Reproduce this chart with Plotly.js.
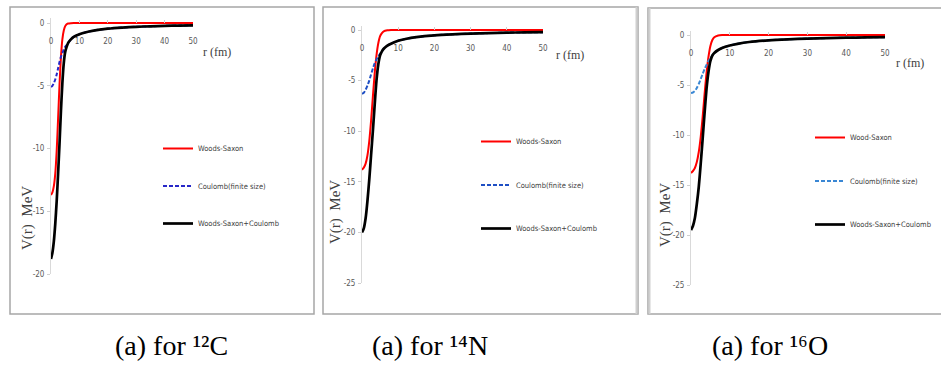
<!DOCTYPE html>
<html>
<head>
<meta charset="utf-8">
<script src="https://cdn.plot.ly/plotly-3.0.1.min.js"></script>
<style>html,body{margin:0;padding:0;background:#fff;}#chart{width:941px;height:366px;}</style>
</head>
<body>
<div id="chart"></div>
<script>
// radius values (fm)
const r = [0,0.5,1,1.5,2,2.5,3,3.5,4,4.5,5,5.5,6,7,8,10,12,15,20,25,30,35,40,45,50];

// 12C
const wsC   = [-13.7,-13.5,-13.0,-12.0,-10.2,-7.6,-4.9,-2.7,-1.3,-0.6,-0.25,-0.1,-0.04,-0.01,0,0,0,0,0,0,0,0,0,0,0];
const coulC = [-5.1,-5.0,-4.8,-4.5,-4.1,-3.6,-3.1,-2.7,-2.4,-2.1,-1.9,-1.75,-1.6,-1.3,-1.1,-0.9,-0.75,-0.6,-0.45,-0.36,-0.3,-0.26,-0.23,-0.2,-0.18];
const totC  = [-18.8,-18.3,-17.4,-16.0,-14.2,-12.0,-9.6,-7.0,-4.8,-3.2,-2.3,-1.9,-1.6,-1.3,-1.1,-0.9,-0.75,-0.6,-0.45,-0.36,-0.3,-0.26,-0.23,-0.2,-0.18];

// 14N
const wsN   = [-13.8,-13.6,-13.2,-12.4,-11.0,-9.0,-6.6,-4.3,-2.5,-1.3,-0.6,-0.3,-0.12,-0.03,0,0,0,0,0,0,0,0,0,0,0];
const coulN = [-6.3,-6.2,-5.9,-5.5,-5.0,-4.4,-3.8,-3.3,-2.9,-2.6,-2.35,-2.1,-1.85,-1.55,-1.35,-1.05,-0.88,-0.7,-0.52,-0.42,-0.35,-0.3,-0.26,-0.23,-0.21];
const totN  = [-20.0,-19.6,-18.6,-16.9,-14.8,-12.4,-10.0,-7.4,-5.0,-3.4,-2.5,-2.1,-1.85,-1.55,-1.35,-1.05,-0.88,-0.7,-0.52,-0.42,-0.35,-0.3,-0.26,-0.23,-0.21];

// 16O
const wsO   = [-13.8,-13.6,-13.3,-12.7,-11.7,-10.2,-8.2,-5.9,-3.8,-2.2,-1.1,-0.5,-0.22,-0.05,0,0,0,0,0,0,0,0,0,0,0];
const coulO = [-5.8,-5.75,-5.6,-5.3,-4.9,-4.4,-3.9,-3.4,-3.0,-2.6,-2.3,-2.05,-1.8,-1.5,-1.3,-1.05,-0.88,-0.7,-0.53,-0.43,-0.36,-0.31,-0.27,-0.24,-0.22];
const totO  = [-19.5,-19.1,-18.3,-16.9,-15.2,-12.9,-10.4,-7.8,-5.4,-3.7,-2.6,-2.05,-1.8,-1.5,-1.3,-1.05,-0.88,-0.7,-0.53,-0.43,-0.36,-0.31,-0.27,-0.24,-0.22];

const xTicks = [0,10,20,30,40,50];
const yTicksC = [0,-5,-10,-15,-20];
const yTicksNO = [0,-5,-10,-15,-20,-25];
const namesC = ['Woods-Saxon','Coulomb(finite size)','Woods-Saxon+Coulomb'];
const namesN = ['Woods-Saxon','Coulomb(finite size)','Woods-Saxon+Coulomb'];
const namesO = ['Wood-Saxon','Coulomb(finite size)','Woods-Saxon+Coulomb'];
const captions = ['(a) for \u00B9\u00B2C','(a) for \u00B9\u2074N','(a) for \u00B9\u2076O'];
const xTitle = 'r (fm)';
const yTitle = 'V(r)  MeV';

const W = 941, H = 366;
const px = v => v / W;
const py = v => 1 - v / H;

const panels = [
  {ws: wsC, co: coulC, tot: totC, names: namesC, blue: '#2828c8', xa: 'x',  ya: 'y',  lg: 'legend'},
  {ws: wsN, co: coulN, tot: totN, names: namesN, blue: '#1f4fc4', xa: 'x2', ya: 'y2', lg: 'legend2'},
  {ws: wsO, co: coulO, tot: totO, names: namesO, blue: '#3a87d4', xa: 'x3', ya: 'y3', lg: 'legend3'}
];

const traces = [];
panels.forEach((p, i) => {
  traces.push({x: r, y: p.ws, name: p.names[0], mode: 'lines', line: {color: '#ff0000', width: 2, shape: 'spline', smoothing: 0.6},
               xaxis: p.xa, yaxis: p.ya, legend: p.lg, legendgroup: 'a' + i});
  traces.push({x: r, y: p.co, name: p.names[1], mode: 'lines', line: {color: p.blue, width: 2, dash: '4px,2px', shape: 'spline', smoothing: 0.6},
               xaxis: p.xa, yaxis: p.ya, legend: p.lg, legendgroup: 'b' + i});
  traces.push({x: r, y: p.tot, name: p.names[2], mode: 'lines', line: {color: '#000000', width: 2.7, shape: 'spline', smoothing: 0.6},
               xaxis: p.xa, yaxis: p.ya, legend: p.lg, legendgroup: 'c' + i});
});

const narrow = 'Liberation Sans Narrow, Arial Narrow, DejaVu Sans Condensed, sans-serif';
const tickFont = {family: narrow, size: 8, color: '#595959'};
const serif = 'Liberation Serif, Times New Roman, serif';

// zeroPx: pixel row of V=0, where the r axis sits
function xAxis(x0, x1, zeroPx) {
  return {domain: [px(x0), px(x1)], anchor: 'free', position: py(zeroPx), side: 'bottom',
          range: [0, 50], ticklabelstandoff: 12,
          tickvals: xTicks, ticktext: xTicks.map(String), tickfont: tickFont,
          ticks: 'inside', ticklen: 3, tickcolor: '#d0d0d0',
          showline: false, showgrid: false, zeroline: false, fixedrange: true};
}
function yAxis(y0, y1, anchor, lo, ticks) {
  return {domain: [py(y1), py(y0)], anchor: anchor, range: [lo, 0.4],
          tickvals: ticks, ticktext: ticks.map(String), tickfont: tickFont,
          ticks: 'outside', ticklen: 3, tickcolor: '#d0d0d0', ticklabelstandoff: 1,
          showline: true, linecolor: '#d9d9d9', linewidth: 1,
          showgrid: false, zeroline: false, fixedrange: true};
}

function legendAt(xpx, ypx, gap) {
  return {x: px(xpx), y: py(ypx), xanchor: 'left', yanchor: 'top', bgcolor: 'rgba(0,0,0,0)',
          font: {family: narrow, size: 7.5, color: '#404040'},
          tracegroupgap: gap, itemwidth: 30, traceorder: 'grouped'};
}

function ann(text, x, y, size, color, angle) {
  return {text: text, xref: 'paper', yref: 'paper', x: px(x), y: py(y), xanchor: 'center', yanchor: 'middle',
          showarrow: false, textangle: angle || 0, font: {family: serif, size: size, color: color}};
}

const layout = {
  width: W, height: H, margin: {l: 0, r: 0, t: 0, b: 0},
  paper_bgcolor: '#ffffff', plot_bgcolor: 'rgba(0,0,0,0)',
  showlegend: true,
  xaxis:  xAxis(51, 193, 23),
  yaxis:  yAxis(18, 274, 'x', -20, yTicksC),
  xaxis2: xAxis(362, 543, 30),
  yaxis2: yAxis(26, 283, 'x2', -25, yTicksNO),
  xaxis3: xAxis(691, 885, 35),
  yaxis3: yAxis(31, 285, 'x3', -25, yTicksNO),
  legend:  legendAt(158, 134, 18.5),
  legend2: legendAt(476, 127, 24.5),
  legend3: legendAt(810, 123, 24.5),
  shapes: [
    {type: 'rect', xref: 'paper', yref: 'paper', x0: px(10), x1: px(314), y0: py(314), y1: py(7), line: {color: '#a6a6a6', width: 1.5}},
    {type: 'rect', xref: 'paper', yref: 'paper', x0: px(323), x1: px(638), y0: py(314), y1: py(7), line: {color: '#a6a6a6', width: 1.5}},
    {type: 'rect', xref: 'paper', yref: 'paper', x0: px(648), x1: px(945), y0: py(314), y1: py(8), line: {color: '#a6a6a6', width: 1.5}},
    {type: 'line', xref: 'paper', yref: 'paper', x0: px(636.5), x1: px(636.5), y0: py(314), y1: py(7), line: {color: '#cfcfcf', width: 2}},
    {type: 'line', xref: 'paper', yref: 'paper', x0: px(649.5), x1: px(649.5), y0: py(314), y1: py(8), line: {color: '#cfcfcf', width: 2}}
  ],
  annotations: [
    ann(xTitle, 217, 52, 12, '#404040'),
    ann(xTitle, 570, 55, 12, '#404040'),
    ann(xTitle, 910, 63, 12, '#404040'),
    ann(yTitle, 27, 218, 15, '#404040', -90),
    ann(yTitle, 335, 212, 15, '#404040', -90),
    ann(yTitle, 665, 215, 15, '#404040', -90),
    ann(captions[0], 171, 345, 28, '#000'),
    ann(captions[1], 430, 345, 28, '#000'),
    ann(captions[2], 770, 345, 28, '#000')
  ]
};

Plotly.newPlot('chart', traces, layout, {staticPlot: true, displayModeBar: false});
</script>
</body>
</html>
